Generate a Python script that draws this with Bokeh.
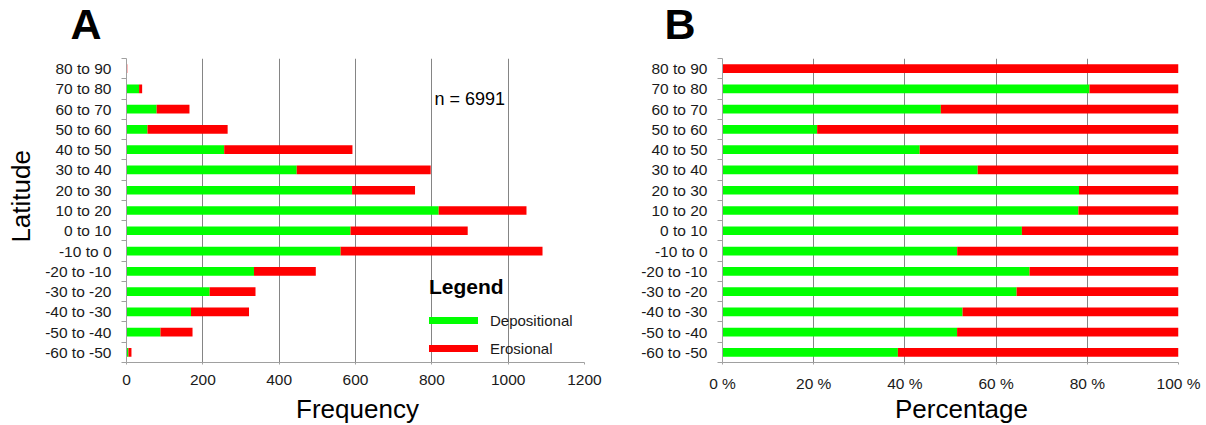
import math
from bokeh.plotting import figure
from bokeh.layouts import row, column
from bokeh.models import (FixedTicker, Legend, LegendItem, Label, ColumnDataSource,
                          Range1d, CustomJSTickFormatter, PrintfTickFormatter)
from bokeh.embed import file_html
from bokeh.resources import INLINE

# ---- data ----
latitude = ["-60 to -50", "-50 to -40", "-40 to -30", "-30 to -20", "-20 to -10",
            "-10 to 0", "0 to 10", "10 to 20", "20 to 30", "30 to 40",
            "40 to 50", "50 to 60", "60 to 70", "70 to 80", "80 to 90"]
depositional = [5, 89, 169, 218, 334, 561, 587, 818, 591, 446, 256, 55, 79, 33, 0]
erosional = [8, 84, 152, 120, 162, 529, 307, 230, 165, 351, 336, 210, 86, 8, 2]
freq_ticks = [0, 200, 400, 600, 800, 1000, 1200]
pct_ticks = [0, 20, 40, 60, 80, 100]
n_total = sum(depositional) + sum(erosional)

GREEN = "#00ff00"
RED = "#ff0000"
FONT = "Liberation Sans"
GRID = "#858585"
AXIS = "#a0a0a0"
TXT = "#1a1a1a"

TOP_H = 50      # strip holding the panel letters
BOT_H = 31      # strip holding the x-axis titles
LEFT_W = 40     # strip holding the y-axis title
MAIN_H = 425 - TOP_H - BOT_H

idx = list(range(len(latitude)))
total = [d + e for d, e in zip(depositional, erosional)]
dep_pct = [100.0 * d / t for d, t in zip(depositional, total)]
src = ColumnDataSource(dict(
    y=idx, dep=depositional, tot=total, dep_pct=dep_pct,
    full=[100.0] * len(idx), zero=[0] * len(idx)))

lat_formatter = CustomJSTickFormatter(args=dict(labels=latitude),
                                      code="const i = Math.round(tick); return (i >= 0 && i < labels.length) ? labels[i] : '';")


def strip(w, h):
    s = figure(width=w, height=h, output_backend="svg", toolbar_location=None,
               x_range=Range1d(0, w), y_range=Range1d(0, h),
               x_axis_type=None, y_axis_type=None,
               min_border_left=0, min_border_right=0, min_border_top=0, min_border_bottom=0)
    s.outline_line_color = None
    s.background_fill_color = "white"
    s.border_fill_color = "white"
    return s


def add_text(s, text, x, y, size, bold=False, align="left", angle=0.0):
    s.add_layout(Label(x=x, y=y, text=text, angle=angle, text_font=FONT, text_font_size=size,
                       text_font_style="bold" if bold else "normal", text_color="black",
                       text_align=align, text_baseline="middle"))


def style(p, xticks):
    p.outline_line_color = None
    p.ygrid.visible = False
    p.xgrid.grid_line_color = GRID
    p.xgrid.grid_line_width = 1
    p.background_fill_color = "white"
    p.border_fill_color = "white"
    ya = p.yaxis[0]
    ya.ticker = FixedTicker(ticks=idx, minor_ticks=[i - 0.5 for i in range(len(idx) + 1)])
    ya.formatter = lat_formatter
    ya.major_tick_line_color = None
    ya.major_tick_out = 0
    ya.major_tick_in = 0
    ya.minor_tick_out = 5
    ya.minor_tick_in = 0
    ya.minor_tick_line_color = AXIS
    ya.axis_line_color = AXIS
    ya.major_label_standoff = 10
    ya.major_label_text_font = FONT
    ya.major_label_text_font_size = "15.5px"
    ya.major_label_text_color = TXT
    xa = p.xaxis[0]
    xa.ticker = FixedTicker(ticks=xticks)
    xa.major_tick_out = 2
    xa.major_tick_in = 0
    xa.major_tick_line_color = AXIS
    xa.minor_tick_line_color = None
    xa.axis_line_color = AXIS
    xa.major_label_standoff = 10
    xa.major_label_text_font = FONT
    xa.major_label_text_font_size = "15.5px"
    xa.major_label_text_color = TXT


# ---- Panel A ----
pA = figure(width=603 - LEFT_W, height=MAIN_H, output_backend="svg", toolbar_location=None,
            x_range=Range1d(0, 1200), y_range=Range1d(-0.5, len(idx) - 0.5),
            min_border_left=126 - LEFT_W, min_border_right=19, min_border_top=8,
            min_border_bottom=MAIN_H - 8 - 305)
style(pA, freq_ticks)
pA.hbar(y="y", left="zero", right="dep", height=0.43, source=src,
        fill_color=GREEN, line_color=None)
pA.hbar(y="y", left="dep", right="tot", height=0.43, source=src,
        fill_color=RED, line_color=None)

pA.add_layout(Label(x=807, y=12.5, text=f"n = {n_total}", text_font=FONT,
                    text_font_size="18px", text_color="black", text_baseline="middle"))

nan = float("nan")
r_dep = pA.line(x=[nan, nan], y=[nan, nan], line_color=GREEN, line_width=7, line_cap="round")
r_ero = pA.line(x=[nan, nan], y=[nan, nan], line_color=RED, line_width=7, line_cap="round")
legend = Legend(items=[LegendItem(label="Depositional", renderers=[r_dep]),
                       LegendItem(label="Erosional", renderers=[r_ero])],
                location=(303, 4), title="Legend",
                title_text_font=FONT, title_text_font_size="21px", title_text_font_style="bold",
                title_text_color="black", title_standoff=11,
                label_text_font=FONT, label_text_font_size="15px", label_text_color=TXT,
                glyph_width=49, glyph_height=20, label_height=20, spacing=8,
                label_standoff=12, padding=0, margin=0,
                border_line_color=None, background_fill_alpha=0)
pA.add_layout(legend)

# ---- Panel B ----
pB = figure(width=603, height=MAIN_H, output_backend="svg", toolbar_location=None,
            x_range=Range1d(0, 100), y_range=Range1d(-0.5, len(idx) - 0.5),
            min_border_left=119, min_border_right=28, min_border_top=8,
            min_border_bottom=MAIN_H - 8 - 305)
style(pB, pct_ticks)
pB.xaxis.formatter = PrintfTickFormatter(format="%d %%")
pB.hbar(y="y", left="zero", right="dep_pct", height=0.43, source=src,
        fill_color=GREEN, line_color=None)
pB.hbar(y="y", left="dep_pct", right="full", height=0.43, source=src,
        fill_color=RED, line_color=None)

# ---- text strips ----
topA = strip(603, TOP_H)
add_text(topA, "A", 70, 27, "43px", bold=True)
topB = strip(603, TOP_H)
add_text(topB, "B", 61, 27, "43px", bold=True)

left = strip(LEFT_W, MAIN_H)
add_text(left, "Latitude", 20, MAIN_H - (206 - TOP_H), "26px", align="center", angle=math.pi / 2)

botA = strip(603, BOT_H)
add_text(botA, "Frequency", 357, 16.5, "26px", align="center")
botB = strip(603, BOT_H)
add_text(botB, "Percentage", 358, 16.5, "26px", align="center")

layout = column(row(topA, topB), row(left, pA, pB), row(botA, botB))
open("out.html", "w").write(file_html(layout, INLINE))
